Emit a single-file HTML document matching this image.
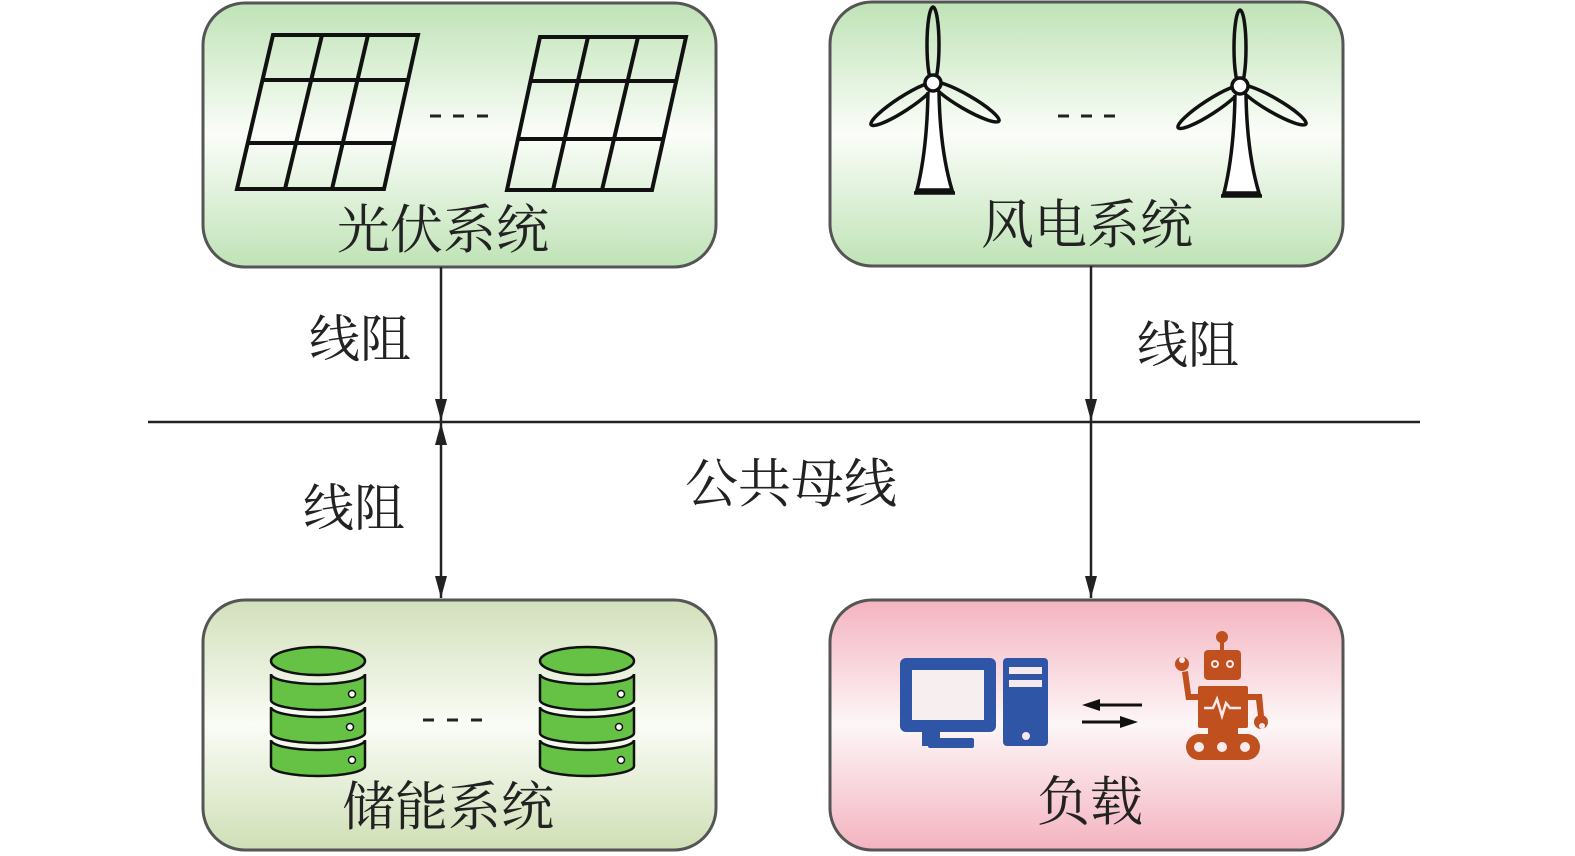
<!DOCTYPE html>
<html><head><meta charset="utf-8"><style>
html,body{margin:0;padding:0;background:#fff}
svg{display:block}
text{font-family:"Liberation Serif","Noto Serif CJK SC",serif;fill:#222}
</style></head><body>
<svg width="1575" height="856" viewBox="0 0 1575 856" xmlns="http://www.w3.org/2000/svg">
<defs>
<linearGradient id="g" x1="0" y1="0" x2="0" y2="1">
<stop offset="0" stop-color="#bfe3b6"/><stop offset="0.5" stop-color="#fbfdf9"/><stop offset="1" stop-color="#bfe3b6"/></linearGradient>
<linearGradient id="g2" x1="0" y1="0" x2="0" y2="1">
<stop offset="0" stop-color="#d2e0bb"/><stop offset="0.5" stop-color="#fafcf6"/><stop offset="1" stop-color="#cfdfb6"/></linearGradient>
<linearGradient id="p" x1="0" y1="0" x2="0" y2="1">
<stop offset="0" stop-color="#f4b3c0"/><stop offset="0.5" stop-color="#fdf6f7"/><stop offset="1" stop-color="#f4b3c0"/></linearGradient>
<marker id="a" viewBox="0 0 22 12" refX="22" refY="6" markerWidth="22" markerHeight="12" markerUnits="userSpaceOnUse" orient="auto-start-reverse"><path d="M0,0 L22,6 L0,12 z" fill="#222"/></marker>
</defs>
<g stroke="#555" stroke-width="3">
<rect x="203" y="3" width="513" height="264" rx="42" fill="url(#g)"/>
<rect x="830" y="2" width="513" height="264" rx="42" fill="url(#g)"/>
<rect x="203" y="600" width="513" height="250" rx="42" fill="url(#g2)"/>
<rect x="830" y="600" width="513" height="250" rx="42" fill="url(#p)"/>
</g>
<g stroke="#222" stroke-width="2.5" fill="none">
<line x1="148" y1="422" x2="1420" y2="422"/>
<line x1="441" y1="267" x2="441" y2="421" marker-end="url(#a)"/>
<line x1="441" y1="423" x2="441" y2="598" marker-start="url(#a)" marker-end="url(#a)"/>
<line x1="1091" y1="266" x2="1091" y2="421" marker-end="url(#a)"/>
<line x1="1091" y1="422" x2="1091" y2="598" marker-end="url(#a)"/>
</g>
<g stroke="#111" stroke-width="4" fill="none" stroke-linejoin="miter">
<polygon points="273,35 418,35 384,189 237,189"/>
<line x1="262.5" y1="80" x2="408" y2="80"/><line x1="248" y1="143" x2="394" y2="143"/>
<line x1="322" y1="35" x2="285" y2="189"/><line x1="368" y1="35" x2="332" y2="189"/>
<polygon points="540,37 686,37 652,190 507,190"/>
<line x1="530.5" y1="81" x2="676" y2="81"/><line x1="518" y1="139" x2="663" y2="139"/>
<line x1="588" y1="37" x2="553" y2="190"/><line x1="638" y1="37" x2="602" y2="190"/>
</g>
<g stroke="#222" stroke-width="3">
<line x1="430" y1="116" x2="441" y2="116"/><line x1="453" y1="116" x2="464" y2="116"/><line x1="477" y1="116" x2="488" y2="116"/>
<line x1="1058" y1="116" x2="1069" y2="116"/><line x1="1081" y1="116" x2="1092" y2="116"/><line x1="1104" y1="116" x2="1115" y2="116"/>
<line x1="423" y1="720" x2="434" y2="720"/><line x1="447" y1="720" x2="458" y2="720"/><line x1="471" y1="720" x2="482" y2="720"/>
</g>
<g id="t1" stroke="#111" stroke-width="3.5" fill="none">
<ellipse cx="933" cy="45" rx="6" ry="38"/>
<ellipse cx="0" cy="0" rx="38" ry="7" transform="translate(903,104) rotate(-33)"/>
<ellipse cx="0" cy="0" rx="38" ry="7" transform="translate(966,102) rotate(30)"/>
<path d="M928,92 Q927,150 917,190 L952,190 Q940,150 939,92" fill="#fff"/>
<line x1="914" y1="193" x2="955" y2="193"/>
<circle cx="933" cy="83" r="8" fill="#fff"/>
</g>
<use href="#t1" transform="translate(307,3)"/>
<g id="b1">
<g stroke="#111" stroke-width="2.5" fill="#66c244">
<path d="M271,740 v26 a47,10 0 0 0 94,0 v-26 a47,10 0 0 1 -94,0z"/>
<path d="M271,707 v26 a47,10 0 0 0 94,0 v-26 a47,10 0 0 1 -94,0z"/>
<path d="M271,674 v26 a47,10 0 0 0 94,0 v-26 a47,10 0 0 1 -94,0z"/>
<ellipse cx="318" cy="661" rx="47" ry="14"/>
</g>
<g fill="#fff" stroke="#111" stroke-width="1.5"><circle cx="352" cy="694" r="3.5"/><circle cx="350" cy="727" r="3.5"/><circle cx="352" cy="760" r="3.5"/></g>
</g>
<use href="#b1" transform="translate(269,0)"/>
<g fill="#2f56a6">
<rect x="900" y="658" width="96" height="74" rx="6"/>
<rect x="922" y="732" width="18" height="14"/><rect x="928" y="738" width="46" height="10" rx="2"/>
<rect x="1003" y="658" width="45" height="88" rx="4"/>
</g>
<rect x="912" y="670" width="72" height="50" fill="#f7eef0"/>
<rect x="1009" y="667" width="33" height="7" fill="#f5e9ee"/><rect x="1009" y="680" width="33" height="7" fill="#f5e9ee"/>
<circle cx="1026" cy="736" r="4" fill="#f5e9ee"/>
<g stroke="#111" stroke-width="3"><line x1="1098" y1="705" x2="1142" y2="705"/><line x1="1082" y1="722" x2="1122" y2="722"/></g>
<path d="M1082,705 L1100,699 L1100,711z M1138,722 L1120,716 L1120,728z" fill="#111"/>
<g fill="#c0511f">
<circle cx="1222" cy="637" r="6"/><rect x="1220" y="640" width="4" height="12"/>
<rect x="1204" y="650" width="37" height="30" rx="4"/>
<rect x="1198" y="686" width="50" height="42" rx="2"/>
<rect x="1186" y="734" width="74" height="26" rx="13"/>
<rect x="1208" y="728" width="30" height="8"/>
<path d="M1198,700 L1186,700 L1182,672 L1188,671 L1191,694 L1198,694z"/>
<path d="M1248,694 L1262,694 L1264,716 L1258,716 L1256,700 L1248,700z"/>
<circle cx="1182" cy="664" r="7"/><circle cx="1261" cy="722" r="7"/>
</g>
<g fill="#fbe9ec"><circle cx="1182" cy="660" r="3"/><circle cx="1262" cy="726" r="3"/>
<circle cx="1215" cy="664" r="4"/><circle cx="1230" cy="664" r="4"/>
<circle cx="1199" cy="747" r="5"/><circle cx="1222" cy="747" r="5"/><circle cx="1245" cy="747" r="5"/></g>
<g fill="#c0511f"><circle cx="1215" cy="664" r="2"/><circle cx="1230" cy="664" r="2"/></g>
<path d="M1204,708 L1213,708 L1217,699 L1222,716 L1226,703 L1230,708 L1241,708" stroke="#fbe9ec" stroke-width="2.5" fill="none"/>
<g font-size="53" text-anchor="middle">
<text x="443" y="248">光伏系统</text>
<text x="1087" y="243">风电系统</text>
<text x="448" y="825">储能系统</text>
<text x="1090" y="820">负载</text>
</g>
<g font-size="51" text-anchor="middle">
<text x="360" y="357">线阻</text>
<text x="1188" y="363">线阻</text>
<text x="354" y="526">线阻</text>
</g>
<text x="791" y="502" font-size="53" text-anchor="middle">公共母线</text>
</svg>
</body></html>
